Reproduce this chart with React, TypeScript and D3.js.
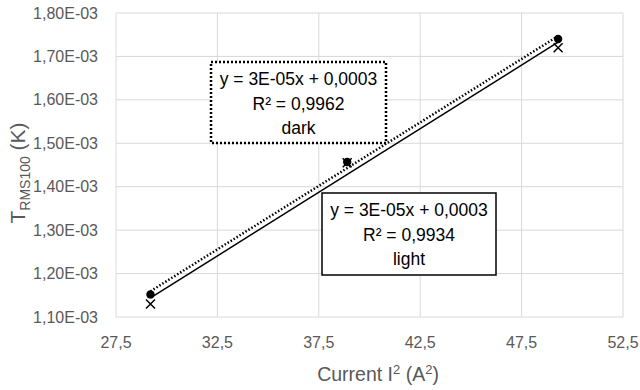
import React, { useEffect, useRef } from "react";
import * as d3 from "d3";

// current squared (A²) and temperature (K)
const currentSq = [29.2, 38.9, 49.3];
const darkValues = [1.152e-3, 1.457e-3, 1.74e-3];
const lightValues = [1.13e-3, 1.455e-3, 1.72e-3];
const xTicks = [27.5, 32.5, 37.5, 42.5, 47.5, 52.5];
const yTicks = [1.1e-3, 1.2e-3, 1.3e-3, 1.4e-3, 1.5e-3, 1.6e-3, 1.7e-3, 1.8e-3];
const darkLabel = ["y = 3E-05x + 0,0003", "R² = 0,9962", "dark"];
const lightLabel = ["y = 3E-05x + 0,0003", "R² = 0,9934", "light"];

const fit = (xs: number[], ys: number[]) => {
  const mx = d3.mean(xs)!, my = d3.mean(ys)!;
  let num = 0, den = 0;
  xs.forEach((x, i) => { num += (x - mx) * (ys[i] - my); den += (x - mx) ** 2; });
  const b = num / den;
  return (x: number) => my + b * (x - mx);
};

const App = () => {
  const svgRef = useRef<SVGSVGElement>(null);

  useEffect(() => {
    const width = 640, height = 390;
    const margin = { top: 13, right: 17, bottom: 73, left: 116 };
    const svg = d3.select(svgRef.current);
    svg.selectAll("*").remove();

    const x = d3.scaleLinear().domain([27.5, 52.5]).range([margin.left, width - margin.right]);
    const y = d3.scaleLinear().domain([1.1e-3, 1.8e-3]).range([height - margin.bottom, margin.top]);
    const font = "'Liberation Sans', Arial, sans-serif";

    // gridlines
    svg.append("g").selectAll("line").data(yTicks).enter().append("line")
      .attr("x1", x(27.5)).attr("x2", x(52.5))
      .attr("y1", d => y(d)).attr("y2", d => y(d))
      .attr("stroke", "#d9d9d9").attr("stroke-width", 1);
    svg.append("g").selectAll("line").data(xTicks).enter().append("line")
      .attr("y1", y(1.1e-3)).attr("y2", y(1.8e-3))
      .attr("x1", d => x(d)).attr("x2", d => x(d))
      .attr("stroke", "#d9d9d9").attr("stroke-width", 1);

    // tick labels
    svg.append("g").selectAll("text").data(yTicks).enter().append("text")
      .attr("x", margin.left - 18).attr("y", d => y(d)).attr("dy", "0.35em")
      .attr("text-anchor", "end").attr("font-family", font).attr("font-size", 16)
      .attr("fill", "#595959")
      .text(d => (d * 1000).toFixed(2).replace(".", ",") + "E-03");
    svg.append("g").selectAll("text").data(xTicks).enter().append("text")
      .attr("x", d => x(d)).attr("y", y(1.1e-3) + 31)
      .attr("text-anchor", "middle").attr("font-family", font).attr("font-size", 16)
      .attr("fill", "#595959")
      .text(d => d.toFixed(1).replace(".", ","));

    // axis titles
    const xt = svg.append("text")
      .attr("x", 378).attr("y", 381).attr("text-anchor", "middle")
      .attr("font-family", font).attr("font-size", 19.5).attr("fill", "#595959");
    xt.append("tspan").text("Current I");
    xt.append("tspan").attr("dy", -7).attr("font-size", 13).text("2");
    xt.append("tspan").attr("dy", 7).text(" (A");
    xt.append("tspan").attr("dy", -7).attr("font-size", 13).text("2");
    xt.append("tspan").attr("dy", 7).text(")");

    const yt = svg.append("text")
      .attr("transform", `translate(25,${(y(1.1e-3) + y(1.8e-3)) / 2 + 8}) rotate(-90)`)
      .attr("text-anchor", "middle")
      .attr("font-family", font).attr("font-size", 21).attr("fill", "#595959");
    yt.append("tspan").text("T");
    yt.append("tspan").attr("dy", 5).attr("font-size", 14).text("RMS100");
    yt.append("tspan").attr("dy", -5).text(" (K)");

    // trendlines
    const xr = d3.extent(currentSq) as [number, number];
    const darkFit = fit(currentSq, darkValues);
    const lightFit = fit(currentSq, lightValues);
    svg.append("line")
      .attr("x1", x(xr[0])).attr("x2", x(xr[1]))
      .attr("y1", y(lightFit(xr[0]))).attr("y2", y(lightFit(xr[1])))
      .attr("stroke", "#000").attr("stroke-width", 1.5);
    svg.append("line")
      .attr("x1", x(xr[0])).attr("x2", x(xr[1]))
      .attr("y1", y(darkFit(xr[0]))).attr("y2", y(darkFit(xr[1])))
      .attr("stroke", "#000").attr("stroke-width", 2.5).attr("stroke-dasharray", "1.5,2");

    // markers
    svg.append("g").selectAll("path").data(currentSq).enter().append("path")
      .attr("transform", (d, i) => `translate(${x(d)},${y(lightValues[i])})`)
      .attr("d", "M-4.5,-4.5L4.5,4.5M-4.5,4.5L4.5,-4.5")
      .attr("stroke", "#000").attr("stroke-width", 1.5).attr("fill", "none");
    svg.append("g").selectAll("circle").data(currentSq).enter().append("circle")
      .attr("cx", d => x(d)).attr("cy", (d, i) => y(darkValues[i]))
      .attr("r", 4.2).attr("fill", "#000");

    // labels
    const label = (lines: string[], bx: number, by: number, w: number, h: number, dashed: boolean) => {
      svg.append("rect").attr("x", bx).attr("y", by).attr("width", w).attr("height", h)
        .attr("fill", "#fff").attr("stroke", "#000")
        .attr("stroke-width", dashed ? 2.5 : 1.5)
        .attr("stroke-dasharray", dashed ? "2,2" : null);
      svg.append("g").selectAll("text").data(lines).enter().append("text")
        .attr("x", bx + w / 2).attr("y", (d, i) => by + 23 + i * 24.5)
        .attr("text-anchor", "middle").attr("font-family", font)
        .attr("font-size", 17.5).attr("fill", "#000").text(d => d);
    };
    label(darkLabel, 211, 62, 175, 81, true);
    label(lightLabel, 322, 193, 174, 82, false);
  }, []);

  return (
    <svg ref={svgRef} width={640} height={390}
      style={{ position: "absolute", left: 0, top: 0, background: "#fff" }} />
  );
};

export default App;
